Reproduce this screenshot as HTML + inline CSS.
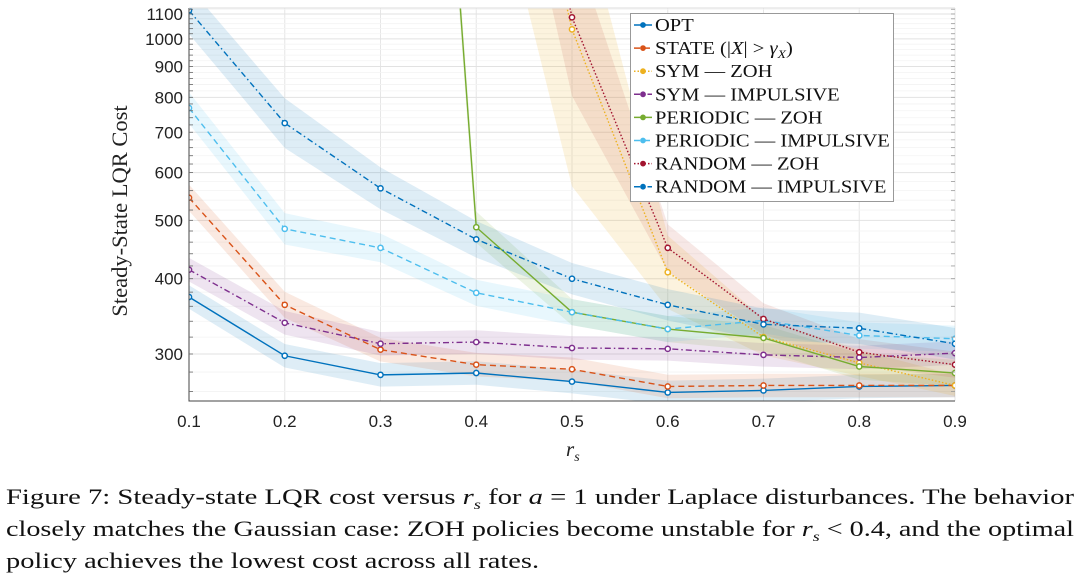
<!DOCTYPE html>
<html><head><meta charset="utf-8"><style>
body{margin:0;background:#fff;width:1080px;height:573px;overflow:hidden}
svg{display:block}
.cap{position:absolute;left:6px;top:481px;font-family:"Liberation Serif",serif;font-size:22px;color:#111;white-space:nowrap}
.cap div{height:32px;line-height:32px;transform-origin:0 0;display:block;width:max-content}
.cap sub{font-size:14px;vertical-align:baseline;position:relative;top:5px;line-height:0}
</style></head><body>
<svg id="chart" width="1080" height="470" xmlns="http://www.w3.org/2000/svg" style="position:absolute;left:0;top:0"></svg>
<div class="cap">
<div id="c1">Figure 7: Steady-state LQR cost versus <i>r<sub>s</sub></i> for <i>a</i> = 1 under Laplace disturbances. The behavior</div>
<div id="c2">closely matches the Gaussian case: ZOH policies become unstable for <i>r<sub>s</sub></i> &lt; 0.4, and the optimal</div>
<div id="c3">policy achieves the lowest cost across all rates.</div>
</div>
<script>
const categories=[0.1,0.2,0.3,0.4,0.5,0.6,0.7,0.8,0.9];
const yTicks=[300,400,500,600,700,800,900,1000,1100];
const xTicks=["0.1","0.2","0.3","0.4","0.5","0.6","0.7","0.8","0.9"];
const seriesNames=["OPT","STATE (|X| > γX)","SYM — ZOH","SYM — IMPULSIVE","PERIODIC — ZOH","PERIODIC — IMPULSIVE","RANDOM — ZOH","RANDOM — IMPULSIVE"];
const optVals=[373,298,277,279,270,259,261,265,266];
const stateVals=[545,362,305,288,283,265,266,266,266];
const symZohVals=[null,null,null,5000,1037,410,320,290,266];
const symImpVals=[414,338,312,314,307,306,299,296,301];
const perZohVals=[null,null,75000,487,352,330,319,286,279];
const perImpVals=[768,484,450,379,352,330,341,322,318];
const randZohVals=[null,null,null,6000,1086,450,343,302,288];
const randImpVals=[1115,725,565,465,400,362,336,331,312];
const bandOpt=[0.045,0.045,0.045,0.045,0.045,0.045,0.045,0.045,0.045];
const bandState=[0.05,0.05,0.045,0.045,0.045,0.045,0.045,0.045,0.045];
const bandSymZoh=[0,0,0,0.7,0.6,0.14,0.07,0.05,0.04];
const bandSymImp=[0.045,0.045,0.045,0.045,0.045,0.045,0.045,0.045,0.045];
const bandPerZoh=[0,0,0.1,0.06,0.05,0.05,0.05,0.05,0.05];
const bandPerImp=[0.06,0.06,0.055,0.05,0.05,0.05,0.05,0.05,0.05];
const bandRandZoh=[0,0,0,0.4,0.3,0.09,0.06,0.05,0.05];
const bandRandImp=[0.09,0.095,0.08,0.07,0.06,0.06,0.06,0.06,0.06];

const L=189,R=955,T=8,B=401;
const ppl=261.7;
function X(v){return L+(v-0.1)/0.8*(R-L);}
function Y(v){return 354-ppl*Math.log(v/300);}
const NS="http://www.w3.org/2000/svg";
const svg=document.getElementById('chart');
function el(t,a,p){const e=document.createElementNS(NS,t);for(const k in a)e.setAttribute(k,a[k]);(p||svg).appendChild(e);return e;}
const defs=el('defs',{});
const cp=el('clipPath',{id:'clip'},defs);el('rect',{x:L,y:T,width:R-L,height:B-T},cp);
const grid=el('g',{});


xTicks.forEach((t,i)=>{const x=X(categories[i]);el('line',{x1:x,x2:x,y1:T,y2:B,stroke:'#e6e6e6','stroke-width':1},grid);});
for(let v=260;v<=1120;v+=20){if(v%100)el('line',{x1:L,x2:R,y1:Y(v),y2:Y(v),stroke:'#f3f3f3','stroke-width':0.8},grid);}
yTicks.forEach(v=>el('line',{x1:L,x2:R,y1:Y(v),y2:Y(v),stroke:'#e2e2e2','stroke-width':1},grid));
const series=[
 {v:optVals,b:bandOpt,c:'#0072BD',d:'',bc:'#0072BD',bo:0.13},
 {v:stateVals,b:bandState,c:'#D95319',d:'6,4',bc:'#D95319',bo:0.13},
 {v:symZohVals,b:bandSymZoh,c:'#EDB120',d:'1.5,2',bc:'#EDB120',bo:0.15},
 {v:symImpVals,b:bandSymImp,c:'#7E2F8E',d:'6,3,1.5,3',bc:'#7E2F8E',bo:0.13},
 {v:perZohVals,b:bandPerZoh,c:'#77AC30',d:'',bc:'#77AC30',bo:0.13},
 {v:perImpVals,b:bandPerImp,c:'#4DBEEE',d:'6,4',bc:'#4DBEEE',bo:0.13},
 {v:randZohVals,b:bandRandZoh,c:'#A2142F',d:'1.5,2',bc:'#C04A3A',bo:0.13},
 {v:randImpVals,b:bandRandImp,c:'#0072BD',d:'6,3,1.5,3',bc:'#0072BD',bo:0.13}
];
const pg=el('g',{'clip-path':'url(#clip)'});
series.forEach((s,si)=>{
 const idx=categories.map((c,i)=>i).filter(i=>s.v[i]!=null);
 const up=idx.map(i=>X(categories[i])+','+Y(s.v[i]*Math.exp(s.b[i])));
 const lo=idx.slice().reverse().map(i=>X(categories[i])+','+Y(s.v[i]*Math.exp(-s.b[i])));
 const band=el('polygon',{points:up.concat(lo).join(' '),fill:s.bc,'fill-opacity':s.bo},pg);
 
 
});
series.forEach((s,si)=>{
 const idx=categories.map((c,i)=>i).filter(i=>s.v[i]!=null);
 const line=el('polyline',{points:idx.map(i=>X(categories[i])+','+Y(s.v[i])).join(' '),fill:'none',stroke:s.c,'stroke-width':1.4,'stroke-dasharray':s.d},pg);
 
 
 idx.forEach(i=>{const m=el('circle',{cx:X(categories[i]),cy:Y(s.v[i]),r:2.6,fill:'#fff',stroke:s.c,'stroke-width':1.5},pg);
  
  });
});
el('path',{d:`M${L},${T}V${B}H${R}`,fill:'none',stroke:'#444','stroke-width':1});
el('line',{x1:L,x2:R,y1:T,y2:T,stroke:'#ddd','stroke-width':1});
for(let v=260;v<=1120;v+=20){if(Y(v)>=T)el('line',{x1:L,x2:L+4,y1:Y(v),y2:Y(v),stroke:'#666','stroke-width':0.8});}
for(let v=260;v<=1120;v+=20){if(Y(v)>=T)el('line',{x1:R,x2:R-4,y1:Y(v),y2:Y(v),stroke:'#999','stroke-width':0.8});}
yTicks.forEach(v=>{const t=el('text',{x:183,y:Y(v)+6,'text-anchor':'end','font-family':'Liberation Sans, sans-serif','font-size':17,fill:'#222'});t.textContent=v;
 });
xTicks.forEach((s,i)=>{const t=el('text',{x:X(categories[i]),y:427,'text-anchor':'middle','font-family':'Liberation Sans, sans-serif','font-size':17,fill:'#222'});t.textContent=s;
 });
const yl=el('text',{transform:'translate(127,211) rotate(-90)','text-anchor':'middle','font-family':'Liberation Serif, serif','font-size':22.5,fill:'#222'});yl.textContent='Steady-State LQR Cost';

const xl=el('text',{x:566,y:456,'font-family':'Liberation Serif, serif','font-size':21,'font-style':'italic',fill:'#222'});xl.innerHTML='r<tspan font-size="14" dy="5">s</tspan>';

const lg=el('g',{});


el('rect',{x:630.5,y:13.5,width:263,height:188,fill:'#fff',stroke:'#999','stroke-width':1},lg);
const texts=[];
seriesNames.forEach((n,i)=>{const y=25+i*23.1,s=series[i];
 el('line',{x1:634,x2:652,y1:y,y2:y,stroke:s.c,'stroke-width':1.5,'stroke-dasharray':s.d},lg);
 el('circle',{cx:643,cy:y,r:2.4,fill:s.c,stroke:s.c},lg);
 const t=el('text',{x:655,y:y+6,'font-family':'Liberation Serif, serif','font-size':18,fill:'#111'},lg);
 if(i==1){t.innerHTML='STATE (|<tspan font-style="italic">X</tspan>| &gt; <tspan font-style="italic">γ</tspan><tspan font-style="italic" font-size="12" dy="4">X</tspan><tspan dy="-4">)</tspan>';}
 else t.textContent=n;
 
 texts.push(t);
});
const sc=235/texts[5].getComputedTextLength();
texts.forEach(t=>t.setAttribute('transform',`translate(655,0) scale(${sc},1) translate(-655,0)`));
const c1=document.getElementById('c1'),c2=document.getElementById('c2'),c3=document.getElementById('c3');
const s1=1068/c1.getBoundingClientRect().width,s2=1068/c2.getBoundingClientRect().width,s3=(s1+s2)/2;
c1.style.transform=`scaleX(${s1})`;c2.style.transform=`scaleX(${s2})`;c3.style.transform=`scaleX(${s3})`;
</script>
</body></html>
